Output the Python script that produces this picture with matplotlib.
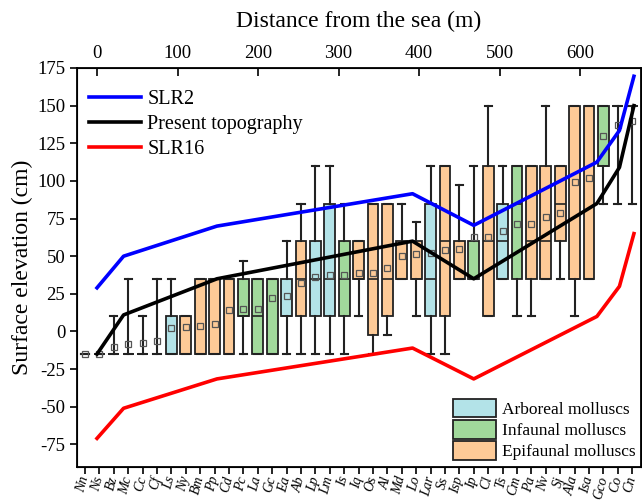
import matplotlib
matplotlib.use('Agg')
import matplotlib.pyplot as plt
from matplotlib.patches import Patch
from matplotlib.lines import Line2D

plt.rcParams['font.family'] = ['Liberation Serif', 'DejaVu Serif']
plt.rcParams['axes.unicode_minus'] = False
plt.rcParams['mathtext.fontset'] = 'stix'

# ---- data ----
species = ['Nn', 'Ns', 'Bz', 'Mc', 'Cc', 'Cf', 'Ls', 'Ny', 'Bm', 'Pp', 'Cd', 'Pc', 'La',
           'Gc', 'Ea', 'Ab', 'Lp', 'Lm', 'Is', 'Iq', 'Os', 'Al', 'Md', 'Lo', 'Lar', 'Ss',
           'Isp', 'Ip', 'Cl', 'Ts', 'Cm', 'Pa', 'Nv', 'Sj', 'Ala', 'Isa', 'Gco', 'Co', 'Cn']
groups = ['none', 'none', 'none', 'none', 'none', 'none', 'arb', 'epi', 'epi', 'epi', 'epi', 'inf', 'inf',
          'inf', 'arb', 'epi', 'arb', 'arb', 'inf', 'epi', 'epi', 'epi', 'epi', 'epi', 'arb', 'epi',
          'epi', 'inf', 'epi', 'arb', 'inf', 'epi', 'epi', 'epi', 'epi', 'epi', 'inf', 'none', 'none']
whislo = [-15, -15, -15, -15, -15, -15, -15, -15, -15, -15, -15, -15, -15,
          -15, -15, -15, -15, -15, -15, 10, -15, -2.5, 35, 10, -15, -15,
          35, 35, 10, 35, 10, 10, 35, 35, 10, 35, 85, 85, 85]
q1 = [-15, -15, -15, -15, -15, -15, -15, -15, -15, -15, -15, 10, -15,
      -15, 10, 10, 10, 10, 10, 35, -2.5, 10, 35, 35, 10, 10,
      35, 35, 10, 35, 35, 35, 35, 60, 35, 35, 110, 150, 150]
med = [-15, -15, -15, -15, -15, -15, -15, -15, -15, -15, -15, 10, 10,
       -15, 10, 35, 35, 35, 35, 35, 35, 35, 35, 35, 35, 60,
       35, 35, 60, 60, 85, 60, 60, 85, 35, 35, 110, 150, 150]
q3 = [-15, -15, -15, -15, -15, -15, 10, 10, 35, 35, 35, 35, 35,
      35, 35, 60, 60, 85, 60, 60, 85, 85, 60, 60, 85, 110,
      60, 60, 110, 85, 110, 110, 110, 110, 150, 150, 150, 150, 150]
whishi = [-15, -15, 10, 35, 10, 35, 35, 10, 35, 35, 35, 47, 35,
          35, 60, 85, 110, 110, 85, 60, 85, 85, 85, 72.5, 110, 110,
          97.5, 110, 150, 110, 110, 110, 150, 110, 150, 150, 150, 150, 150]
means = [-15, -15, -10, -8, -7.5, -6, 2, 3, 3.5, 5, 14, 15, 15,
         22.5, 23.5, 32, 36.5, 37.5, 37.5, 39, 39, 42.5, 50, 51.5, 52, 54,
         55, 62.5, 63, 67, 71.5, 71.5, 76, 79, 99, 102, 130, 137, 140]

distance = [0, 33, 149, 392, 468, 621, 649, 667]
slr2 = [29, 50, 70, 91.5, 70.5, 112.5, 133.5, 169.5]
topo = [-15, 11, 35, 60, 35, 85, 109, 150]
slr16 = [-71, -51, -31.5, -11, -31.5, 10, 30, 65]

group_colors = {'arb': '#b3e3e8', 'inf': '#a1d99b', 'epi': '#fdca97', 'none': 'none'}
group_labels = [('arb', 'Arboreal molluscs'), ('inf', 'Infaunal molluscs'), ('epi', 'Epifaunal molluscs')]

# ---- figure ----
W, H = 642, 500
fig = plt.figure(figsize=(W / 100, H / 100), dpi=100)
ax_left, ax_right, ax_top, ax_bot = 77, 641, 68, 467
ax = fig.add_axes([ax_left / W, 1 - ax_bot / H, (ax_right - ax_left) / W, (ax_bot - ax_top) / H])

stats = []
for i in range(len(species)):
    stats.append(dict(med=med[i], q1=q1[i], q3=q3[i], whislo=whislo[i], whishi=whishi[i],
                      mean=means[i], fliers=[]))
positions = list(range(len(species)))
bp = ax.bxp(stats, positions=positions, widths=0.76, patch_artist=True, showmeans=True,
            capwidths=0.5,
            meanprops=dict(marker='s', markerfacecolor='none', markeredgecolor='#555555',
                           markersize=4.2, markeredgewidth=0.9),
            medianprops=dict(color='#222222', lw=1.2),
            whiskerprops=dict(color='#222222', lw=1.5),
            capprops=dict(color='#222222', lw=1.5),
            boxprops=dict(edgecolor='#222222', lw=1.3))
for patch, g in zip(bp['boxes'], groups):
    patch.set_facecolor(group_colors[g])

# category axis mapping: pixel x = 85 + 14.4*i
x0_pix, dx_pix = 85, 14.4
ax.set_xlim((ax_left - x0_pix) / dx_pix, (ax_right - x0_pix) / dx_pix)
ax.set_ylim(-90, 175)
ax.set_xticks(positions)
ax.set_xticklabels(species, rotation=75, fontstyle='italic', fontsize=10,
                   ha='right', va='center', rotation_mode='anchor')
ax.set_yticks(range(-75, 176, 25))
ax.tick_params(axis='y', direction='out', length=5, width=1.2, labelsize=13.5)
ax.tick_params(axis='x', direction='out', length=5, width=1.2, pad=2)
ax.set_ylabel('Surface elevation (cm)', fontsize=17, labelpad=3)
for s in ax.spines.values():
    s.set_linewidth(1.3)

# distance axis on top: pixel x = 97 + 0.805*d
ax2 = ax.twiny()
d0_pix, dd_pix = 97, 0.805
ax2.set_xlim((ax_left - d0_pix) / dd_pix, (ax_right - d0_pix) / dd_pix)
ax2.set_xticks(range(0, 601, 100))
ax2.tick_params(axis='x', direction='in', length=6, width=1.2, labelsize=13.5, pad=4)
ax2.set_xlabel('Distance from the sea (m)', fontsize=17, labelpad=13)
ax2.set_ylim(ax.get_ylim())

l1, = ax2.plot(distance, slr2, color='#0000ff', lw=2.6, label='SLR2')
l2, = ax2.plot(distance, topo, color='black', lw=2.6, label='Present topography')
l3, = ax2.plot(distance, slr16, color='#ff0000', lw=2.6, label='SLR16')

leg1 = ax2.legend(handles=[l1, l2, l3], loc='upper left', frameon=False, fontsize=14.5,
                  handlelength=2.6, handletextpad=0.3, labelspacing=0.3,
                  borderaxespad=0.2, bbox_to_anchor=(0.0, 0.975))
ax2.add_artist(leg1)
patches = [Patch(facecolor=group_colors[g], edgecolor='#222222', lw=1.3, label=lab)
           for g, lab in group_labels]
ax2.legend(handles=patches, loc='lower right', frameon=False, fontsize=12.5,
           handlelength=2.5, handleheight=1.25, handletextpad=0.3, labelspacing=0.12,
           borderaxespad=0.1, bbox_to_anchor=(1.005, -0.005))

fig.savefig('out.png', dpi=100)
